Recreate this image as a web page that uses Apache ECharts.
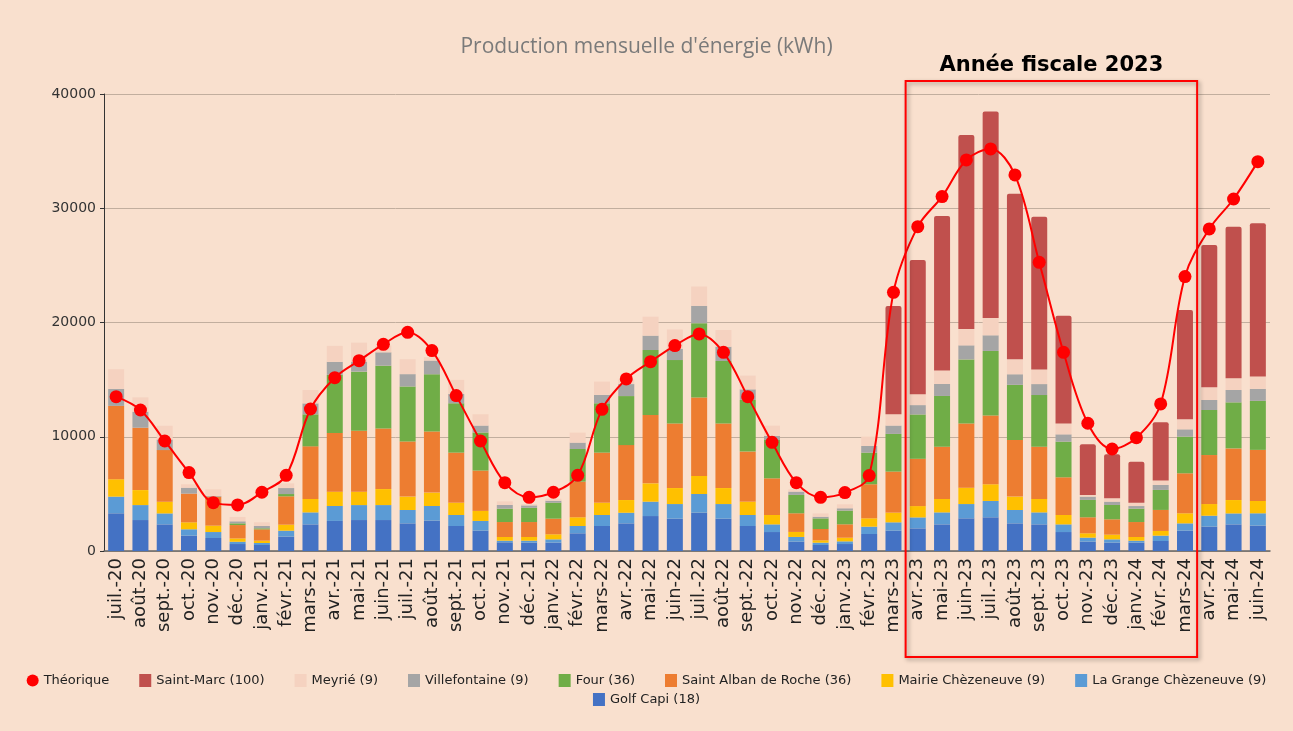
<!DOCTYPE html>
<html>
<head>
<meta charset="utf-8">
<script src="https://cdn.jsdelivr.net/npm/echarts@6/dist/echarts.min.js"></script>
<style>
  html, body { margin: 0; padding: 0; background: #F9E0CE; }
  #chart { width: 1293px; height: 731px; }
</style>
</head>
<body>
<div id="chart"></div>
<script>
var months = ['juil.-20','août-20','sept.-20','oct.-20','nov.-20','déc.-20','janv.-21','févr.-21','mars-21','avr.-21','mai-21','juin-21',
    'juil.-21','août-21','sept.-21','oct.-21','nov.-21','déc.-21','janv.-22','févr.-22','mars-22','avr.-22','mai-22','juin-22',
    'juil.-22','août-22','sept.-22','oct.-22','nov.-22','déc.-22','janv.-23','févr.-23','mars-23','avr.-23','mai-23','juin-23',
    'juil.-23','août-23','sept.-23','oct.-23','nov.-23','déc.-23','janv.-24','févr.-24','mars-24','avr.-24','mai-24','juin-24'];

// valeurs par site, du bas de la pile vers le haut
var golfCapi = [3300,2710,2330,1340,1140,610,525,1255, 2330,2630,2710,2710,2420,2660,2190,1780, 760,730,730,1550,2190,2420,3060,2830,
    3360,2830,2190,1660,820,525,610,1490, 1780,1980,2330,2860,2950,2420,2330,1660, 820,730,730,875,1780,2130,2330,2220];
var grange = [1460,1310,960,560,520,200,175,525, 1050,1310,1310,1310,1170,1280,960,850, 145,175,290,640,960,930,1260,1280,
    1630,1280,960,670,410,205,235,640, 730,960,1050,1250,1430,1170,1050,670, 350,290,175,470,640,960,960,1080];
var mairie = [1520,1310,1020,610,560,290,205,525, 1170,1255,1170,1400,1170,1170,1080,880, 320,320,440,760,1080,1110,1600,1400,
    1580,1400,1170,820,440,205,320,730, 850,990,1170,1430,1460,1170,1170,820, 380,410,320,410,880,1020,1170,1080];
var alban = [6420,5460,4520,2510,2540,1170,990,2480, 4610,5140,5340,5310,4820,5340,4380,3530, 1310,1310,1370,3120,4380,4810,5980,5660,
    6860,5660,4380,3210,1630,990,1170,2980, 3590,4140,4580,5630,6010,4960,4580,3300, 1400,1340,1310,1840,3500,4290,4520,4470];
var four = [0,0,0,0,0,150,90,200, 2800,5080,5170,5490,4820,5020,4320,3330, 1170,1250,1400,2860,4320,4290,5690,5540,
    6510,5460,4520,3360,1610,930,1200,2770, 3300,3880,4440,5600,5660,4820,4520,3120, 1520,1260,1170,1750,3210,3940,4030,4290];
var villef = [1490,1400,930,520,60,180,205,525, 960,1140,880,1170,1080,1200,820,610, 320,205,175,555,730,1050,1260,980,
    1520,1250,930,350,290,145,205,580, 730,820,1050,1230,1370,930,960,640, 290,290,230,440,640,880,1080,1050];
var meyrie = [1720,1260,1200,300,580,380,320,410, 1170,1400,1660,600,1310,300,1230,990, 320,115,175,875,1170,400,1660,1700,
    1690,1460,1200,900,200,290,350,820, 990,960,1170,1430,1520,1310,1280,960, 150,290,290,380,880,1110,1020,1080];
var saintMarc = [0,0,0,0,0,0,0,0, 0,0,0,0,0,0,0,0, 0,0,0,0,0,0,0,0,
    0,0,0,0,0,0,0,0, 9480,11730,13540,16980,18060,14500,13370,9430, 4440,3850,3590,5110,9570,12460,13280,13420];
var theorique = [13510,12340,9630,6860,4230,4030,5140,6620, 12430,15170,16660,18090,19140,17540,13600,9630, 5980,4700,5140,6620,12400,15060,16570,17980,
    19000,17390,13510,9510,5980,4700,5110,6600, 22640,28390,31020,34230,35190,32920,25270,17390, 11180,8930,9920,12870,24020,28190,30810,34080];

var fiscalStart = 'avr.-23', fiscalEnd = 'mars-24';

var font = 'DejaVu Sans, sans-serif';

function bar(name, data, color, radius)
{
    return {
        name: name,
        type: 'bar',
        stack: 'total',
        barWidth: 16,
        data: data,
        itemStyle: { color: color, borderRadius: radius || 0 }
    };
}

var legendText = { fontFamily: font, fontSize: 13, color: '#222' };

var myChart = echarts.init(document.getElementById('chart'));
var option = {
    backgroundColor: '#F9E0CE',
    animation: false,
    title: {
        text: "Production mensuelle d'énergie (kWh)",
        left: 'center',
        top: 32,
        textStyle: { fontFamily: 'Open Sans, sans-serif', fontSize: 21, fontWeight: 'normal', color: '#7a7a7a' }
    },
    legend: [{
        top: 669,
        left: 'center',
        itemWidth: 12,
        itemHeight: 13,
        itemGap: 30,
        textStyle: legendText,
        data: [
            { name: 'Théorique', icon: 'circle' },
            { name: 'Saint-Marc (100)', icon: 'rect' },
            { name: 'Meyrié (9)', icon: 'rect' },
            { name: 'Villefontaine (9)', icon: 'rect' },
            { name: 'Four (36)', icon: 'rect' },
            { name: 'Saint Alban de Roche (36)', icon: 'rect' },
            { name: 'Mairie Chèzeneuve (9)', icon: 'rect' },
            { name: 'La Grange Chèzeneuve (9)', icon: 'rect' }
        ]
    }, {
        top: 688,
        left: 'center',
        itemWidth: 12,
        itemHeight: 13,
        textStyle: legendText,
        data: [{ name: 'Golf Capi (18)', icon: 'rect' }]
    }],
    grid: { left: 104, right: 23, top: 94, bottom: 180 },
    xAxis: {
        type: 'category',
        data: months,
        axisLine: { lineStyle: { color: '#666', width: 1.5 } },
        axisTick: { show: false },
        axisLabel: { rotate: 90, interval: 0, fontFamily: font, fontSize: 18, color: '#222', margin: 7 }
    },
    yAxis: {
        type: 'value',
        min: 0,
        max: 40000,
        interval: 10000,
        axisLine: { show: true, lineStyle: { color: '#333' } },
        axisTick: { show: true, length: 4, lineStyle: { color: '#333' } },
        axisLabel: {
            fontFamily: font, fontSize: 14, color: '#333', margin: 8,
            formatter: function(v){ return String(v); }
        },
        splitLine: { lineStyle: { color: '#C2AE9E' } }
    },
    series: [
        bar('Golf Capi (18)', golfCapi, '#4472C4'),
        bar('La Grange Chèzeneuve (9)', grange, '#5B9BD5'),
        bar('Mairie Chèzeneuve (9)', mairie, '#FFC000'),
        bar('Saint Alban de Roche (36)', alban, '#ED7D31'),
        bar('Four (36)', four, '#70AD47'),
        bar('Villefontaine (9)', villef, '#A5A5A5'),
        bar('Meyrié (9)', meyrie, '#F5D2C0'),
        bar('Saint-Marc (100)', saintMarc, '#C0504D', [2, 2, 0, 0]),
        {
            name: 'Théorique',
            type: 'line',
            data: theorique,
            smooth: 0.35,
            symbol: 'circle',
            symbolSize: 13,
            z: 5,
            lineStyle: { color: '#FF0000', width: 2 },
            itemStyle: { color: '#FF0000' }
        }
    ]
};
myChart.setOption(option);

// cadre "Année fiscale 2023" autour des mois avr.-23 .. mars-24
var half = 12.15;
var x0 = myChart.convertToPixel({ xAxisIndex: 0 }, fiscalStart) - half;
var x1 = myChart.convertToPixel({ xAxisIndex: 0 }, fiscalEnd) + half;
myChart.setOption({
    graphic: [
        {
            type: 'rect',
            shape: { x: x0, y: 81, width: x1 - x0, height: 576 },
            style: {
                fill: null, stroke: '#FF0000', lineWidth: 2,
                shadowBlur: 4, shadowOffsetX: 2, shadowOffsetY: 2, shadowColor: 'rgba(0,0,0,0.35)'
            },
            z: 100
        },
        {
            type: 'text',
            x: (x0 + x1) / 2,
            y: 66,
            style: {
                text: 'Année fiscale 2023',
                fill: '#000',
                font: 'bold 21px ' + font,
                textAlign: 'center',
                textVerticalAlign: 'middle'
            },
            z: 100
        }
    ]
});
</script>
</body>
</html>
